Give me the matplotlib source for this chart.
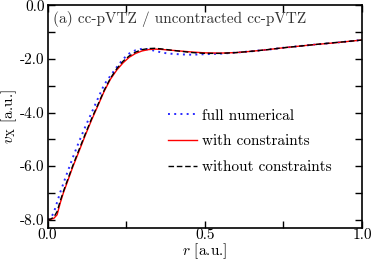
import matplotlib
matplotlib.use("Agg")
import matplotlib.pyplot as plt
from matplotlib.ticker import MultipleLocator, FuncFormatter

plt.rcParams["font.family"] = ["cmr10", "DejaVu Serif"]
plt.rcParams["mathtext.fontset"] = "cm"
plt.rcParams["axes.unicode_minus"] = False
plt.rcParams["axes.formatter.use_mathtext"] = True

r = [0.00, 0.01, 0.02, 0.03, 0.04, 0.05, 0.06, 0.08, 0.10, 0.12, 0.14, 0.16,
     0.18, 0.20, 0.22, 0.24, 0.26, 0.28, 0.30, 0.32, 0.34, 0.36, 0.38, 0.40,
     0.43, 0.46, 0.50, 0.55, 0.60, 0.65, 0.70, 0.75, 0.80, 0.85, 0.90, 0.95, 1.00]

full_numerical = [-8.00, -7.95, -7.72, -7.35, -6.98, -6.65, -6.32, -5.68, -5.08, -4.52,
                  -4.00, -3.47, -2.95, -2.62, -2.30, -2.00, -1.79, -1.67, -1.62, -1.64,
                  -1.69, -1.75, -1.79, -1.81, -1.83, -1.84, -1.82, -1.80, -1.76, -1.71,
                  -1.65, -1.58, -1.52, -1.46, -1.41, -1.35, -1.29]

with_constraints = [-8.00, -7.99, -7.95, -7.82, -7.38, -7.00, -6.68, -6.03, -5.44, -4.84,
                    -4.27, -3.74, -3.20, -2.75, -2.41, -2.14, -1.93, -1.79, -1.70, -1.65,
                    -1.63, -1.64, -1.66, -1.68, -1.71, -1.74, -1.77, -1.78, -1.76, -1.71,
                    -1.65, -1.58, -1.52, -1.46, -1.41, -1.35, -1.29]

without_constraints = [-8.00, -7.98, -7.90, -7.70, -7.30, -6.95, -6.62, -5.98, -5.38, -4.79,
                       -4.22, -3.70, -3.16, -2.71, -2.36, -2.08, -1.88, -1.74, -1.65, -1.61,
                       -1.60, -1.62, -1.65, -1.68, -1.72, -1.76, -1.79, -1.79, -1.76, -1.71,
                       -1.65, -1.58, -1.52, -1.46, -1.40, -1.35, -1.29]

fig = plt.figure(figsize=(3.74, 2.61), dpi=100)
ax = fig.add_axes([0.1275, 0.126, 0.8405, 0.853])

ax.plot(r, full_numerical, color="#2a2aff", linestyle=(0, (1, 2.2)), linewidth=1.4,
        label="full numerical")
ax.plot(r, with_constraints, color="#ff0000", linestyle="-", linewidth=1.0,
        label="with constraints")
ax.plot(r, without_constraints, color="black", linestyle=(0, (4, 2)), linewidth=1.0,
        label="without constraints")

ax.set_xlim(0.0, 1.0)
ax.set_ylim(-8.32, 0.0)
ax.xaxis.set_major_locator(MultipleLocator(0.5))
ax.xaxis.set_minor_locator(MultipleLocator(0.25))
ax.yaxis.set_major_locator(MultipleLocator(2.0))
ax.yaxis.set_minor_locator(MultipleLocator(1.0))
ax.xaxis.set_major_formatter(FuncFormatter(lambda v, p: f"{v:.1f}"))
ax.yaxis.set_major_formatter(FuncFormatter(lambda v, p: f"{v:.1f}"))
ax.tick_params(which="both", direction="in", top=True, right=True, labelsize=11,
               width=1.0, length=5)
ax.tick_params(axis="x", pad=0)
ax.tick_params(axis="y", pad=2)
for s in ax.spines.values():
    s.set_linewidth(1.2)

ax.set_xlabel(r"$r$ [a.u.]", fontsize=11, labelpad=0)
ax.set_ylabel(r"$v_\mathrm{X}$ [a.u.]", fontsize=11, labelpad=1)

ax.text(0.017, 0.939, "(a) cc-pVTZ / uncontracted cc-pVTZ", transform=ax.transAxes,
        fontsize=11, ha="left", va="center", color="#333333")

ax.legend(loc="upper left", bbox_to_anchor=(0.383, 0.535), frameon=False,
          borderaxespad=0, borderpad=0, fontsize=11, handlelength=1.9,
          handletextpad=0.35, labelspacing=0.78)

fig.savefig("out.png", dpi=100)
